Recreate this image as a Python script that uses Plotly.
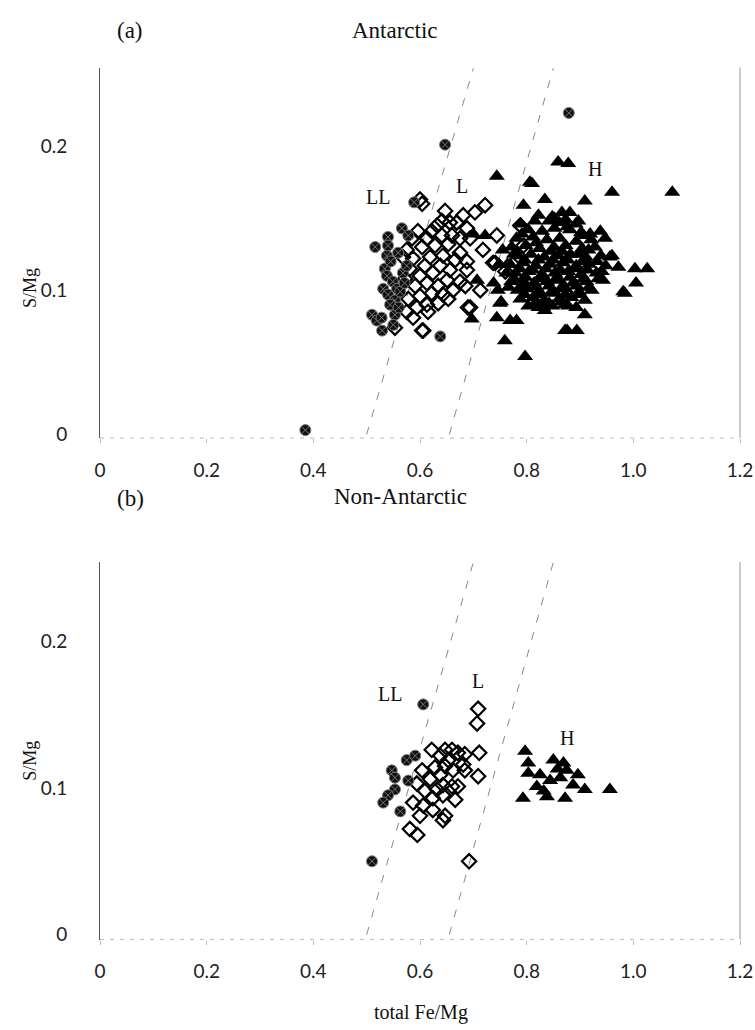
import plotly.graph_objects as go

# ---------------- data ----------------
# Panel (a) Antarctic
a_LL_x = [0.385, 0.647, 0.879, 0.638, 0.589, 0.566, 0.540, 0.516, 0.538, 0.540, 0.534, 0.538, 0.531,
          0.549, 0.557, 0.540, 0.553, 0.544, 0.510, 0.519, 0.553, 0.529, 0.568, 0.575, 0.563, 0.578,
          0.545, 0.560, 0.528, 0.550, 0.571, 0.559]
a_LL_y = [0.003, 0.201, 0.223, 0.068, 0.161, 0.143, 0.137, 0.130, 0.124, 0.131, 0.115, 0.110, 0.101,
          0.106, 0.101, 0.097, 0.093, 0.090, 0.083, 0.079, 0.083, 0.072, 0.112, 0.117, 0.099, 0.138,
          0.120, 0.088, 0.081, 0.076, 0.105, 0.126]

a_L_x = [0.604, 0.600, 0.722, 0.703, 0.681, 0.647, 0.641, 0.656, 0.669, 0.688, 0.632, 0.622, 0.596,
         0.585, 0.613, 0.641, 0.660, 0.675, 0.694, 0.653, 0.628, 0.604, 0.575, 0.718, 0.675, 0.643,
         0.619, 0.587, 0.568, 0.666, 0.688, 0.638, 0.609, 0.581, 0.656, 0.688, 0.624, 0.600, 0.572,
         0.651, 0.675, 0.613, 0.634, 0.591, 0.662, 0.685, 0.622, 0.643, 0.600, 0.578, 0.653, 0.613,
         0.634, 0.594, 0.575, 0.615, 0.587, 0.553, 0.604, 0.690, 0.744, 0.737, 0.788, 0.794, 0.784,
         0.741, 0.760, 0.713, 0.694, 0.606]
a_L_y = [0.160, 0.163, 0.159, 0.154, 0.152, 0.155, 0.148, 0.147, 0.147, 0.143, 0.145, 0.141, 0.141,
         0.136, 0.136, 0.138, 0.138, 0.136, 0.136, 0.132, 0.131, 0.130, 0.128, 0.128, 0.126, 0.124,
         0.123, 0.122, 0.123, 0.121, 0.120, 0.117, 0.117, 0.115, 0.114, 0.114, 0.112, 0.110, 0.108,
         0.107, 0.106, 0.105, 0.103, 0.103, 0.100, 0.103, 0.098, 0.097, 0.096, 0.094, 0.094, 0.090,
         0.091, 0.088, 0.085, 0.085, 0.081, 0.074, 0.072, 0.088, 0.138, 0.119, 0.145, 0.131, 0.124,
         0.119, 0.113, 0.100, 0.088, 0.072]

a_H_x = [0.859, 0.878, 0.960, 1.073, 0.834, 0.909, 0.810, 0.744, 0.806, 0.794, 0.697, 0.722, 0.707,
         0.744, 0.759, 0.797, 0.769, 0.781, 0.746, 0.834, 0.872, 0.894, 0.876, 0.909, 0.984, 1.005,
         1.003, 1.026, 0.972, 0.956, 0.947, 0.938, 0.919, 0.822, 0.848, 0.866, 0.881, 0.960, 0.981,
         0.831, 0.755, 0.762, 0.748, 0.738, 0.752, 0.700, 0.750,
         0.842, 0.861, 0.873, 0.892, 0.803, 0.829, 0.852, 0.881, 0.902,
         0.781, 0.812, 0.838, 0.862, 0.893, 0.921, 0.772, 0.798, 0.824, 0.851, 0.873, 0.904, 0.928,
         0.784, 0.808, 0.833, 0.859, 0.882, 0.911, 0.939, 0.769, 0.793, 0.817, 0.844, 0.868, 0.893,
         0.917, 0.948, 0.779, 0.804, 0.829, 0.853, 0.878, 0.902, 0.931, 0.771, 0.792, 0.814, 0.838,
         0.862, 0.887, 0.912, 0.943, 0.783, 0.801, 0.824, 0.849, 0.873, 0.898, 0.922, 0.788, 0.812,
         0.833, 0.861, 0.884, 0.909, 0.803, 0.822, 0.848, 0.871, 0.893,
         0.789, 0.815, 0.852, 0.876, 0.897, 0.907, 0.791, 0.818, 0.846, 0.866, 0.897, 0.916, 0.776,
         0.796, 0.822, 0.849, 0.877, 0.905, 0.932, 0.764, 0.787, 0.811, 0.836, 0.863, 0.889, 0.914,
         0.941, 0.776, 0.798, 0.826, 0.855, 0.881, 0.907, 0.934, 0.766, 0.792, 0.818, 0.842, 0.866,
         0.894, 0.917, 0.796, 0.821, 0.847, 0.872, 0.898, 0.816, 0.842, 0.866, 0.878]
a_H_y = [0.189, 0.188, 0.168, 0.168, 0.163, 0.162, 0.174, 0.179, 0.175, 0.159, 0.080, 0.138, 0.107,
         0.081, 0.065, 0.054, 0.079, 0.079, 0.100, 0.086, 0.072, 0.072, 0.072, 0.083, 0.098, 0.105,
         0.115, 0.115, 0.116, 0.123, 0.136, 0.141, 0.139, 0.152, 0.151, 0.154, 0.154, 0.124, 0.099,
         0.088, 0.128, 0.112, 0.118, 0.105, 0.092, 0.139, 0.091,
         0.148, 0.147, 0.149, 0.146, 0.142, 0.141, 0.143, 0.142, 0.140,
         0.136, 0.137, 0.135, 0.136, 0.134, 0.135, 0.130, 0.131, 0.129, 0.130, 0.131, 0.129, 0.130,
         0.124, 0.125, 0.123, 0.124, 0.125, 0.123, 0.124, 0.118, 0.119, 0.117, 0.118, 0.119, 0.117,
         0.118, 0.117, 0.112, 0.113, 0.111, 0.112, 0.113, 0.111, 0.112, 0.106, 0.107, 0.105, 0.106,
         0.107, 0.105, 0.106, 0.107, 0.100, 0.101, 0.099, 0.100, 0.101, 0.099, 0.100, 0.094, 0.095,
         0.093, 0.094, 0.095, 0.093, 0.089, 0.088, 0.089, 0.090, 0.088,
         0.146, 0.148, 0.150, 0.144, 0.148, 0.138, 0.139, 0.133, 0.127, 0.127, 0.125, 0.128, 0.125,
         0.121, 0.121, 0.121, 0.121, 0.120, 0.120, 0.118, 0.115, 0.114, 0.115, 0.114, 0.115, 0.114,
         0.113, 0.108, 0.109, 0.108, 0.108, 0.109, 0.108, 0.108, 0.102, 0.103, 0.102, 0.103, 0.102,
         0.103, 0.102, 0.097, 0.097, 0.098, 0.097, 0.097, 0.091, 0.091, 0.092, 0.089]

# Panel (b) Non-Antarctic
b_LL_x = [0.606, 0.575, 0.591, 0.547, 0.553, 0.578, 0.553, 0.540, 0.531, 0.563, 0.510]
b_LL_y = [0.157, 0.119, 0.122, 0.112, 0.107, 0.105, 0.099, 0.095, 0.090, 0.084, 0.050]

b_L_x = [0.709, 0.707, 0.711, 0.709, 0.622, 0.647, 0.660, 0.671, 0.684, 0.638, 0.653, 0.681, 0.604,
         0.628, 0.647, 0.662, 0.684, 0.638, 0.619, 0.594, 0.643, 0.660, 0.671, 0.609, 0.632, 0.624,
         0.643, 0.666, 0.587, 0.606, 0.624, 0.600, 0.647, 0.581, 0.595, 0.643, 0.692]
b_L_y = [0.154, 0.144, 0.124, 0.108, 0.126, 0.126, 0.126, 0.124, 0.123, 0.122, 0.119, 0.116, 0.112,
         0.114, 0.115, 0.112, 0.112, 0.109, 0.106, 0.103, 0.102, 0.101, 0.101, 0.098, 0.099, 0.093,
         0.095, 0.092, 0.090, 0.088, 0.085, 0.081, 0.081, 0.072, 0.068, 0.078, 0.050]

b_H_x = [0.797, 0.803, 0.803, 0.825, 0.850, 0.869, 0.896, 0.909, 0.956, 0.793, 0.838, 0.872, 0.887,
         0.863, 0.844, 0.819, 0.875, 0.858, 0.832]
b_H_y = [0.125, 0.117, 0.110, 0.109, 0.119, 0.117, 0.109, 0.099, 0.099, 0.093, 0.094, 0.093, 0.102,
         0.107, 0.105, 0.101, 0.112, 0.113, 0.098]

# LL/L and L/H boundary lines
bound_y = [0.0, 0.254]
bound_LL_L_x = [0.50, 0.70]
bound_L_H_x = [0.655, 0.85]

x_ticks = [0, 0.2, 0.4, 0.6, 0.8, 1.0, 1.2]
x_ticktext = ["0", "0.2", "0.4", "0.6", "0.8", "1.0", "1.2"]
y_ticks = [0, 0.1, 0.2]
y_ticktext = ["0", "0.1", "0.2"]

# ---------------- figure ----------------
W, H = 755, 1030
fig = go.Figure()

LL_marker = dict(symbol="circle-x", size=11, color="#111", line=dict(color="#777", width=1))
L_marker = dict(symbol="diamond-open", size=11, color="black", line=dict(color="black", width=2.2))
H_marker = dict(symbol="triangle-up", size=14, color="black", line=dict(color="black", width=0))

for suf, (llx, lly, lx, ly, hx, hy) in {
    "": (a_LL_x, a_LL_y, a_L_x, a_L_y, a_H_x, a_H_y),
    "2": (b_LL_x, b_LL_y, b_L_x, b_L_y, b_H_x, b_H_y),
}.items():
    xa, ya = "x" + suf, "y" + suf
    for bx in (bound_LL_L_x, bound_L_H_x):
        fig.add_trace(go.Scatter(x=bx, y=bound_y, mode="lines", xaxis=xa, yaxis=ya,
                                 line=dict(color="#888", width=1, dash="8px,10px"), showlegend=False))
    fig.add_trace(go.Scatter(x=hx, y=hy, mode="markers", marker=H_marker, xaxis=xa, yaxis=ya, showlegend=False))
    fig.add_trace(go.Scatter(x=lx, y=ly, mode="markers", marker=L_marker, xaxis=xa, yaxis=ya, showlegend=False))
    fig.add_trace(go.Scatter(x=llx, y=lly, mode="markers", marker=LL_marker, xaxis=xa, yaxis=ya, showlegend=False))

L_PX, R_PX = 100, 740
def py(p):
    return (H - p) / H
def px(p):
    return (p - L_PX) / (R_PX - L_PX)

tickfont = dict(family="Lato, Open Sans, sans-serif", size=19, color="#222")
common_x = dict(range=[0, 1.2], tickvals=x_ticks, ticktext=x_ticktext, showgrid=False, zeroline=False,
                showline=False, ticks="outside", ticklen=4, tickcolor="#bbb", tickfont=tickfont,
                ticklabelstandoff=11)
common_y = dict(tickvals=y_ticks, ticktext=y_ticktext, showgrid=False, zeroline=False,
                showline=True, linecolor="#555", linewidth=1, ticks="", tickfont=tickfont,
                ticklabelstandoff=28)

fig.update_layout(
    width=W, height=H, margin=dict(l=L_PX, r=W - R_PX, t=0, b=0),
    paper_bgcolor="white", plot_bgcolor="white",
    xaxis=dict(domain=[0, 1], anchor="y", **common_x),
    yaxis=dict(domain=[py(441), py(68)], range=[-0.0025, 0.2545], anchor="x", **common_y),
    xaxis2=dict(domain=[0, 1], anchor="y2", **common_x),
    yaxis2=dict(domain=[py(946), py(566)], range=[-0.0034, 0.254], anchor="x2", **common_y),
)

# faint bottom axis lines and right frame lines
for xr, yr in (("x", "y"), ("x2", "y2")):
    fig.add_shape(type="line", xref=xr + " domain", yref=yr + " domain", x0=0, x1=1, y0=0, y1=0,
                  line=dict(color="#bbb", width=1, dash="4px,6px"))
    fig.add_shape(type="line", xref=xr + " domain", yref=yr + " domain", x0=1, x1=1, y0=0, y1=1,
                  line=dict(color="#999", width=1))

serif = "Liberation Serif, Times New Roman, serif"
ann = []
def text(x, y, s, size, xref="paper", yref="paper", **kw):
    ann.append(dict(x=x, y=y, xref=xref, yref=yref, text=s, showarrow=False,
                    xanchor="center", yanchor="middle",
                    font=dict(family=serif, size=size, color="#111"), **kw))

text(px(130), py(31), "(a)", 23)
text(px(395), py(31), "Antarctic", 23)
text(px(130), py(502), "(b)", 23)
text(px(400), py(500), "Non-Antarctic", 23)
text(px(30), py(290), "S/Mg", 18, textangle=-90)
text(px(30), py(766), "S/Mg", 18, textangle=-90)
text(px(421), py(1019), "total Fe/Mg", 20)

text(0.521, 0.165, "LL", 20, xref="x", yref="y")
text(0.679, 0.172, "L", 20, xref="x", yref="y")
text(0.928, 0.184, "H", 20, xref="x", yref="y")
text(0.544, 0.164, "LL", 20, xref="x2", yref="y2")
text(0.709, 0.173, "L", 20, xref="x2", yref="y2")
text(0.876, 0.134, "H", 20, xref="x2", yref="y2")

fig.update_layout(annotations=ann)
fig.write_html("out.html")
